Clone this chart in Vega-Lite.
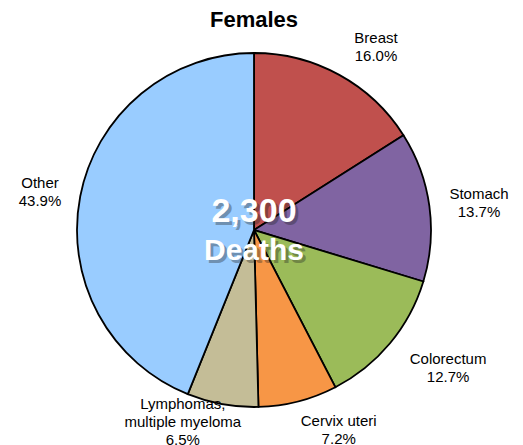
{
  "$schema": "https://vega.github.io/schema/vega-lite/v6.json",
  "width": 508,
  "height": 380,
  "autosize": {"type": "none"},
  "padding": {"top": 40, "left": 0, "right": 15, "bottom": 25},
  "background": "white",
  "title": {"text": "Females", "font": "Liberation Sans", "fontSize": 22, "fontWeight": "bold", "color": "black", "anchor": "middle", "frame": "group", "offset": -1},
  "data": {"values": [
    {"category": "Breast", "pct": 16.0, "label": "Breast\n16.0%"},
    {"category": "Stomach", "pct": 13.7, "label": "Stomach\n13.7%"},
    {"category": "Colorectum", "pct": 12.7, "label": "Colorectum\n12.7%"},
    {"category": "Cervix uteri", "pct": 7.2, "label": "Cervix uteri\n7.2%"},
    {"category": "Lymphomas, multiple myeloma", "pct": 6.5, "label": "Lymphomas,\nmultiple myeloma\n6.5%"},
    {"category": "Other", "pct": 43.9, "label": "Other\n43.9%"}
  ]},
  "transform": [
    {"stack": "pct", "groupby": [], "as": ["start", "end"]},
    {"calculate": "(datum.start + datum.end) / 2", "as": "mid"}
  ],
  "resolve": {"scale": {"theta": "shared"}},
  "layer": [
    {
      "mark": {"type": "arc", "outerRadius": 177, "stroke": "black", "strokeWidth": 1.8},
      "encoding": {
        "theta": {"field": "start", "type": "quantitative", "scale": {"domain": [0, 100]}},
        "theta2": {"field": "end"},
        "color": {"field": "category", "type": "nominal", "legend": null,
          "scale": {"domain": ["Breast", "Stomach", "Colorectum", "Cervix uteri", "Lymphomas, multiple myeloma", "Other"],
                    "range": ["#C0504D", "#8064A2", "#9BBB59", "#F79646", "#C4BD97", "#99CCFF"]}}
      }
    },
    {
      "transform": [{"filter": "datum.category === 'Breast'"}],
      "mark": {"type": "text", "radius": 220, "dx": 16, "dy": 1, "lineBreak": "\n", "lineHeight": 18, "font": "Liberation Sans", "fontSize": 15, "align": "center", "baseline": "middle", "color": "black"},
      "encoding": {"theta": {"field": "mid", "type": "quantitative"}, "text": {"field": "label"}}
    },
    {
      "transform": [{"filter": "datum.category === 'Stomach'"}],
      "mark": {"type": "text", "radius": 220, "dx": 7, "dy": -6, "lineBreak": "\n", "lineHeight": 18, "font": "Liberation Sans", "fontSize": 15, "align": "center", "baseline": "middle", "color": "black"},
      "encoding": {"theta": {"field": "mid", "type": "quantitative"}, "text": {"field": "label"}}
    },
    {
      "transform": [{"filter": "datum.category === 'Colorectum'"}],
      "mark": {"type": "text", "radius": 220, "dx": 25, "dy": -12, "lineBreak": "\n", "lineHeight": 18, "font": "Liberation Sans", "fontSize": 15, "align": "center", "baseline": "middle", "color": "black"},
      "encoding": {"theta": {"field": "mid", "type": "quantitative"}, "text": {"field": "label"}}
    },
    {
      "transform": [{"filter": "datum.category === 'Cervix uteri'"}],
      "mark": {"type": "text", "radius": 220, "dx": 30, "dy": -22, "lineBreak": "\n", "lineHeight": 18, "font": "Liberation Sans", "fontSize": 15, "align": "center", "baseline": "middle", "color": "black"},
      "encoding": {"theta": {"field": "mid", "type": "quantitative"}, "text": {"field": "label"}}
    },
    {
      "transform": [{"filter": "datum.category === 'Lymphomas, multiple myeloma'"}],
      "mark": {"type": "text", "radius": 220, "dx": -32, "dy": -42, "lineBreak": "\n", "lineHeight": 18, "font": "Liberation Sans", "fontSize": 15, "align": "center", "baseline": "middle", "color": "black"},
      "encoding": {"theta": {"field": "mid", "type": "quantitative"}, "text": {"field": "label"}}
    },
    {
      "transform": [{"filter": "datum.category === 'Other'"}],
      "mark": {"type": "text", "radius": 220, "dx": 2, "dy": -5, "lineBreak": "\n", "lineHeight": 18, "font": "Liberation Sans", "fontSize": 15, "align": "center", "baseline": "middle", "color": "black"},
      "encoding": {"theta": {"field": "mid", "type": "quantitative"}, "text": {"field": "label"}}
    },
    {
      "data": {"values": [{"n": "2,300", "w": "Deaths"}]},
      "transform": [],
      "layer": [
        {"mark": {"type": "text", "font": "Liberation Sans", "fontWeight": "bold", "fontSize": 34, "align": "center", "baseline": "alphabetic", "dx": 3, "dy": -5, "color": "#222222", "opacity": 0.35},
         "encoding": {"text": {"field": "n"}}},
        {"mark": {"type": "text", "font": "Liberation Sans", "fontWeight": "bold", "fontSize": 30, "align": "center", "baseline": "alphabetic", "dx": 3, "dy": 33, "color": "#222222", "opacity": 0.35},
         "encoding": {"text": {"field": "w"}}},
        {"mark": {"type": "text", "font": "Liberation Sans", "fontWeight": "bold", "fontSize": 34, "align": "center", "baseline": "alphabetic", "dy": -8, "color": "white"},
         "encoding": {"text": {"field": "n"}}},
        {"mark": {"type": "text", "font": "Liberation Sans", "fontWeight": "bold", "fontSize": 30, "align": "center", "baseline": "alphabetic", "dy": 30, "color": "white"},
         "encoding": {"text": {"field": "w"}}}
      ]
    }
  ],
  "config": {"view": {"stroke": null}}
}
